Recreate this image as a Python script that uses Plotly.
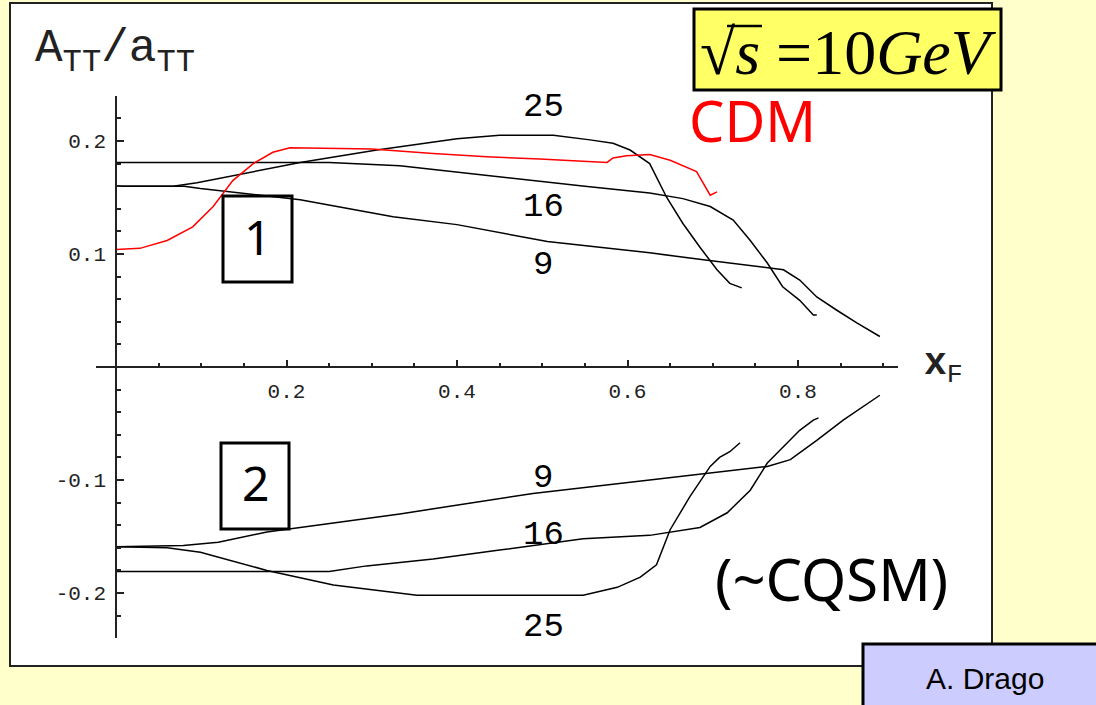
import plotly.graph_objects as go

W, H = 1096, 705

# ---- curves: A_TT / a_TT versus x_F at sqrt(s) = 10 GeV ----
# model 1 (positive branch), labelled by Q^2 = 9, 16, 25
xf_up_25 = [0, 0.067, 0.095, 0.157, 0.216, 0.306, 0.368, 0.40, 0.45, 0.513, 0.556, 0.583, 0.603,
            0.626, 0.646, 0.665, 0.685, 0.705, 0.720, 0.734]
a_up_25 = [0.160, 0.160, 0.163, 0.172, 0.181, 0.192, 0.199, 0.202, 0.205, 0.205, 0.201, 0.198, 0.192,
           0.180, 0.150, 0.127, 0.106, 0.086, 0.074, 0.070]

xf_up_16 = [0, 0.1, 0.25, 0.333, 0.45, 0.55, 0.626, 0.665, 0.697, 0.724, 0.744, 0.764, 0.782,
            0.802, 0.818, 0.822]
a_up_16 = [0.181, 0.181, 0.181, 0.178, 0.168, 0.160, 0.154, 0.149, 0.142, 0.130, 0.112, 0.092, 0.071,
           0.059, 0.046, 0.046]

xf_up_9 = [0, 0.08, 0.099, 0.216, 0.325, 0.40, 0.506, 0.626, 0.689, 0.744, 0.783, 0.802, 0.822,
           0.846, 0.869, 0.896]
a_up_9 = [0.160, 0.160, 0.158, 0.148, 0.133, 0.126, 0.111, 0.101, 0.095, 0.090, 0.086, 0.077, 0.062,
          0.050, 0.039, 0.027]

# CDM prediction
xf_cdm = [0, 0.028, 0.06, 0.09, 0.114, 0.137, 0.161, 0.184, 0.204, 0.30, 0.372, 0.435, 0.497,
          0.576, 0.583, 0.599, 0.626, 0.650, 0.681, 0.689, 0.697, 0.705]
a_cdm = [0.104, 0.105, 0.112, 0.124, 0.142, 0.165, 0.180, 0.190, 0.194, 0.193, 0.189, 0.186, 0.184,
         0.181, 0.185, 0.187, 0.188, 0.183, 0.173, 0.163, 0.152, 0.155]

# model 2 (negative branch, ~CQSM)
xf_lo_9 = [0, 0.079, 0.12, 0.177, 0.333, 0.489, 0.626, 0.764, 0.791, 0.822, 0.853, 0.896]
a_lo_9 = [-0.159, -0.158, -0.155, -0.146, -0.130, -0.112, -0.100, -0.088, -0.082, -0.065, -0.047, -0.025]

xf_lo_16 = [0, 0.1, 0.25, 0.294, 0.372, 0.45, 0.548, 0.626, 0.685, 0.717, 0.744, 0.764, 0.782,
            0.802, 0.818, 0.824]
a_lo_16 = [-0.181, -0.181, -0.181, -0.176, -0.170, -0.162, -0.152, -0.149, -0.142, -0.129, -0.109,
           -0.085, -0.071, -0.056, -0.047, -0.045]

xf_lo_25 = [0, 0.06, 0.099, 0.177, 0.255, 0.353, 0.474, 0.548, 0.588, 0.615, 0.634, 0.650, 0.673,
            0.697, 0.708, 0.720, 0.732]
a_lo_25 = [-0.159, -0.160, -0.164, -0.180, -0.193, -0.202, -0.202, -0.202, -0.195, -0.186, -0.175,
           -0.144, -0.115, -0.088, -0.080, -0.075, -0.067]

# curve labels (x position, y position, text)
curve_label_text = ["25", "16", "9", "9", "16", "25"]
curve_label_x = [0.501, 0.501, 0.501, 0.501, 0.501, 0.501]
curve_label_y = [0.230, 0.142, 0.090, -0.098, -0.149, -0.230]

# axis ticks
x_major = [0.2, 0.4, 0.6, 0.8]
x_major_text = ["0.2", "0.4", "0.6", "0.8"]
x_minor = [0.05, 0.1, 0.15, 0.25, 0.3, 0.35, 0.45, 0.5, 0.55, 0.65, 0.7, 0.75, 0.85, 0.9]
y_major = [-0.2, -0.1, 0.1, 0.2]
y_major_text = ["-0.2", "-0.1", "0.1", "0.2"]
y_minor = [-0.24, -0.22, -0.18, -0.16, -0.14, -0.12, -0.08, -0.06, -0.04, -0.02,
           0.02, 0.04, 0.06, 0.08, 0.12, 0.14, 0.16, 0.18, 0.22, 0.24]


def px(x):
    return x / W


def py(y):
    return 1 - y / H


MONO = "Liberation Mono"
HAND = "Noto Sans"

fig = go.Figure()

curves = [
    (xf_up_25, a_up_25, "black"), (xf_up_16, a_up_16, "black"), (xf_up_9, a_up_9, "black"),
    (xf_lo_9, a_lo_9, "black"), (xf_lo_16, a_lo_16, "black"), (xf_lo_25, a_lo_25, "black"),
    (xf_cdm, a_cdm, "#ff0000"),
]
for xs, ys, col in curves:
    fig.add_trace(go.Scatter(x=xs, y=ys, mode="lines", line=dict(color=col, width=1.5),
                             showlegend=False, hoverinfo="skip"))

shapes = [
    # white panel
    dict(type="rect", xref="paper", yref="paper", x0=px(10), x1=px(992), y0=py(666), y1=py(3),
         fillcolor="white", line=dict(color="#222222", width=2), layer="below"),
    # boxed model numbers
    dict(type="rect", xref="paper", yref="paper", x0=px(223), x1=px(292), y0=py(282), y1=py(196),
         line=dict(color="black", width=3)),
    dict(type="rect", xref="paper", yref="paper", x0=px(221), x1=px(289), y0=py(529), y1=py(443),
         line=dict(color="black", width=3)),
    # energy box
    dict(type="rect", xref="paper", yref="paper", x0=px(694), x1=px(1001), y0=py(90), y1=py(9),
         fillcolor="#ffff66", line=dict(color="black", width=3)),
    # bar of the square root over s
    dict(type="line", xref="paper", yref="paper", x0=px(727), x1=px(762), y0=py(26), y1=py(26),
         line=dict(color="black", width=2.5)),
    # author box
    dict(type="rect", xref="paper", yref="paper", x0=px(863), x1=px(1100), y0=py(710), y1=py(644),
         fillcolor="#ccccff", line=dict(color="black", width=3)),
]


def label(x, y, text, size, family, color="black", xanchor="center"):
    return dict(x=px(x), y=py(y), xref="paper", yref="paper", xanchor=xanchor, yanchor="middle",
                text=text, showarrow=False, font=dict(family=family, size=size, color=color))


annotations = []
for t, x, y in zip(curve_label_text, curve_label_x, curve_label_y):
    annotations.append(dict(x=x, y=y, xref="x", yref="y", xanchor="center", yanchor="middle",
                            text=t, showarrow=False,
                            font=dict(family=MONO, size=34, color="black")))

annotations += [
    label(33, 52, "A<sub>TT</sub>/a<sub>TT</sub>", 46, MONO, "#222222", xanchor="left"),
    label(922, 366, "<b>x</b><sub>F</sub>", 38, MONO, "#222222", xanchor="left"),
    label(257, 236, "1", 48, HAND),
    label(255, 482, "2", 48, HAND),
    label(752, 120, "CDM", 56, HAND, "#ff0000"),
    label(831, 578, "(~CQSM)", 58, HAND),
    label(848, 52, "√<i>s</i> =10<i>GeV</i>", 64, "Liberation Serif"),
    label(985, 678, "A. Drago", 30, "Liberation Sans"),
]

axis_font = dict(family=MONO, size=21, color="#222222")

fig.update_layout(
    width=W, height=H,
    margin=dict(l=0, r=0, t=0, b=0),
    paper_bgcolor="#ffffcc",
    plot_bgcolor="rgba(0,0,0,0)",
    shapes=shapes,
    annotations=annotations,
    showlegend=False,
    xaxis=dict(
        domain=[px(96), px(898)], range=[-0.02346, 0.91730],
        anchor="free", position=py(367),
        showline=True, linecolor="#222222", linewidth=1.5,
        showgrid=False, zeroline=False,
        tickmode="array", tickvals=x_major, ticktext=x_major_text,
        ticks="inside", ticklen=6, tickwidth=1.5, tickcolor="#222222",
        ticklabelstandoff=5,
        tickfont=axis_font,
        minor=dict(tickmode="array", tickvals=x_minor, ticks="inside", ticklen=3,
                   tickwidth=1.5, tickcolor="#222222", showgrid=False),
    ),
    yaxis=dict(
        domain=[py(638), py(96)], range=[-0.23982, 0.23982],
        anchor="free", position=px(116),
        showline=True, linecolor="#222222", linewidth=1.5,
        showgrid=False, zeroline=False,
        tickmode="array", tickvals=y_major, ticktext=y_major_text,
        ticks="inside", ticklen=7, tickwidth=1.5, tickcolor="#222222",
        ticklabelstandoff=5,
        tickfont=axis_font,
        minor=dict(tickmode="array", tickvals=y_minor, ticks="inside", ticklen=4,
                   tickwidth=1.5, tickcolor="#222222", showgrid=False),
    ),
)

fig.write_html("out.html")
